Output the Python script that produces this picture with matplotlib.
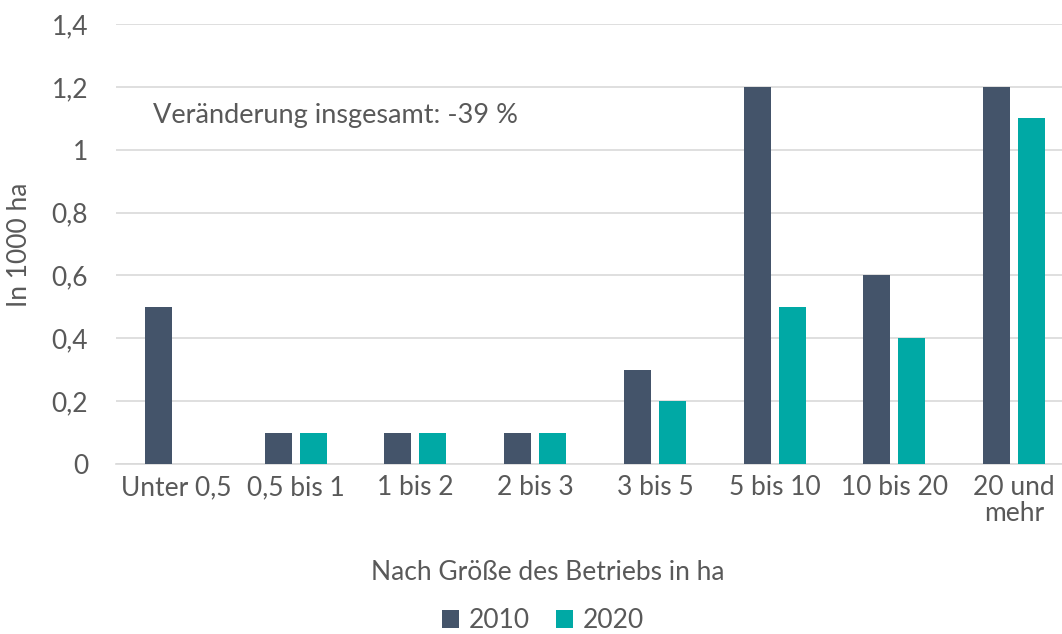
import matplotlib
matplotlib.use("Agg")
import matplotlib.pyplot as plt
import numpy as np

categories = ["Unter 0,5", "0,5 bis 1", "1 bis 2", "2 bis 3", "3 bis 5", "5 bis 10", "10 bis 20", "20 und\nmehr"]
values_2010 = [0.5, 0.1, 0.1, 0.1, 0.3, 1.2, 0.6, 1.2]
values_2020 = [0.0, 0.1, 0.1, 0.1, 0.2, 0.5, 0.4, 1.1]
series_labels = ["2010", "2020"]
yticks = [0, 0.2, 0.4, 0.6, 0.8, 1.0, 1.2, 1.4]
ytick_labels = ["0", "0,2", "0,4", "0,6", "0,8", "1", "1,2", "1,4"]

plt.rcParams["font.family"] = ["Lato", "DejaVu Sans"]
txt = "#595959"
fs = 19

W, H = 1062, 634
fig = plt.figure(figsize=(W / 100, H / 100), dpi=100)
ax = fig.add_axes([116 / W, 170 / H, 958 / W, 440 / H])

x = np.arange(len(categories))
w = 0.225
gap = 0.067
ax.bar(x - (w + gap) / 2, values_2010, width=w, color="#44546A", label=series_labels[0], zorder=3)
ax.bar(x + (w + gap) / 2, values_2020, width=w, color="#00A9A5", label=series_labels[1], zorder=3)

ax.set_xlim(-0.5, len(categories) - 0.5)
ax.set_ylim(0, 1.4)
ax.set_yticks(yticks)
ax.set_yticklabels(ytick_labels, fontsize=fs, color=txt)
ax.set_xticks(x)
ax.set_xticklabels(categories, fontsize=fs, color=txt, linespacing=1.05)
ax.tick_params(axis="x", length=0, pad=8)
ax.tick_params(axis="y", length=0, pad=20)

ax.grid(axis="y", color="#D9D9D9", linewidth=1.2, zorder=0)
for s in ["top", "right", "left"]:
    ax.spines[s].set_visible(False)
ax.spines["bottom"].set_color("#D9D9D9")
ax.spines["bottom"].set_linewidth(1.2)

fig.text(20 / W, 1 - 245 / H, "In 1000 ha", rotation=90, fontsize=fs, color=txt, ha="center", va="center")
fig.text(548 / W, 1 - 573 / H, "Nach Größe des Betriebs in ha", fontsize=fs, color=txt, ha="center", va="center")
fig.text(153 / W, 1 - 115 / H, "Veränderung insgesamt: -39 %", fontsize=19.5, color=txt, ha="left", va="center")

leg = fig.legend(loc="center", bbox_to_anchor=(543 / W, 1 - 621 / H), ncol=2, frameon=False,
                 fontsize=fs, handlelength=0.65, handleheight=0.65, handletextpad=0.35, columnspacing=1.0,
                 borderpad=0)
for t in leg.get_texts():
    t.set_color(txt)

fig.savefig("out.png", dpi=100)
